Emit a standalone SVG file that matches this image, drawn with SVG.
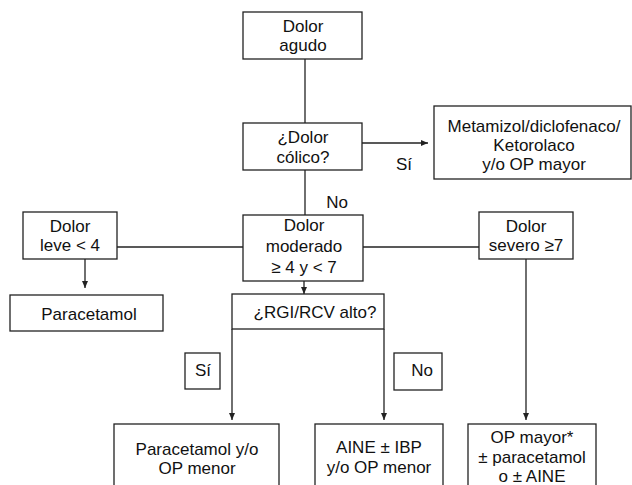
<svg xmlns="http://www.w3.org/2000/svg" width="632" height="485" viewBox="0 0 632 485">
<defs>
<style>
.box{fill:#fff;stroke:#222;stroke-width:1.3}
.ln{fill:none;stroke:#222;stroke-width:1.3}
.t{font-family:"Liberation Sans",Arial,sans-serif;font-size:17px;fill:#111;text-anchor:middle}
</style>
<marker id="ah" markerUnits="userSpaceOnUse" markerWidth="7" markerHeight="6" refX="7" refY="3" orient="auto">
<path d="M0,0 L7,3 L0,6 z" fill="#222"/>
</marker>
</defs>
<rect width="632" height="485" fill="#fff"/>
<g id="connectors">
<line class="ln" x1="305" y1="59" x2="305" y2="123"/>
<line class="ln" x1="362" y1="143" x2="428" y2="143" marker-end="url(#ah)"/>
<line class="ln" x1="305" y1="170" x2="305" y2="215"/>
<line class="ln" x1="117" y1="247" x2="243" y2="247"/>
<line class="ln" x1="363" y1="247" x2="479" y2="247"/>
<line class="ln" x1="85" y1="259" x2="85" y2="288" marker-end="url(#ah)"/>
<line class="ln" x1="304" y1="281" x2="304" y2="294" marker-end="url(#ah)"/>
<line class="ln" x1="232" y1="329" x2="232" y2="420" marker-end="url(#ah)"/>
<line class="ln" x1="384" y1="329" x2="384" y2="420" marker-end="url(#ah)"/>
<line class="ln" x1="526" y1="259" x2="526" y2="420" marker-end="url(#ah)"/>
<text class="t" x="404" y="170">Sí</text>
<text class="t" x="337" y="208">No</text>
</g>
<g id="dolor-agudo">
<rect class="box" x="243" y="12" width="119" height="47"/>
<text class="t" x="303" y="32">Dolor</text>
<text class="t" x="303" y="51">agudo</text>
</g>
<g id="dolor-colico">
<rect class="box" x="243" y="123" width="119" height="47"/>
<text class="t" x="303" y="143">¿Dolor</text>
<text class="t" x="303" y="163">cólico?</text>
</g>
<g id="metamizol">
<rect class="box" x="434" y="106" width="197" height="73"/>
<text class="t" x="534" y="132">Metamizol/diclofenaco/</text>
<text class="t" x="534" y="151">Ketorolaco</text>
<text class="t" x="534" y="170">y/o OP mayor</text>
</g>
<g id="dolor-leve">
<rect class="box" x="23" y="212" width="94" height="47"/>
<text class="t" x="70" y="232">Dolor</text>
<text class="t" x="70" y="251">leve &lt; 4</text>
</g>
<g id="dolor-moderado">
<rect class="box" x="243" y="215" width="120" height="66"/>
<text class="t" x="304" y="231">Dolor</text>
<text class="t" x="304" y="252">moderado</text>
<text class="t" x="304" y="273">≥ 4 y &lt; 7</text>
</g>
<g id="dolor-severo">
<rect class="box" x="479" y="212" width="94" height="47"/>
<text class="t" x="526" y="232">Dolor</text>
<text class="t" x="526" y="251">severo ≥7</text>
</g>
<g id="paracetamol">
<rect class="box" x="10" y="295" width="153" height="36"/>
<text class="t" x="89" y="320">Paracetamol</text>
</g>
<g id="rgi-rcv">
<rect class="box" x="232" y="294" width="152" height="35"/>
<text class="t" x="315" y="318">¿RGI/RCV alto?</text>
</g>
<g id="si">
<rect class="box" x="185" y="353" width="35" height="36"/>
<text class="t" x="203" y="376">Sí</text>
</g>
<g id="no">
<rect class="box" x="394" y="353" width="48" height="37"/>
<text class="t" x="422" y="376">No</text>
</g>
<g id="paracetamol-op-menor">
<rect class="box" x="114" y="424" width="165" height="70"/>
<text class="t" x="197" y="455">Paracetamol y/o</text>
<text class="t" x="197" y="474">OP menor</text>
</g>
<g id="aine-ibp">
<rect class="box" x="315" y="424" width="128" height="70"/>
<text class="t" x="379" y="453">AINE ± IBP</text>
<text class="t" x="379" y="473">y/o OP menor</text>
</g>
<g id="op-mayor">
<rect class="box" x="468" y="424" width="128" height="70"/>
<text class="t" x="532" y="443">OP mayor*</text>
<text class="t" x="532" y="463">± paracetamol</text>
<text class="t" x="532" y="482">o ± AINE</text>
</g>
</svg>
